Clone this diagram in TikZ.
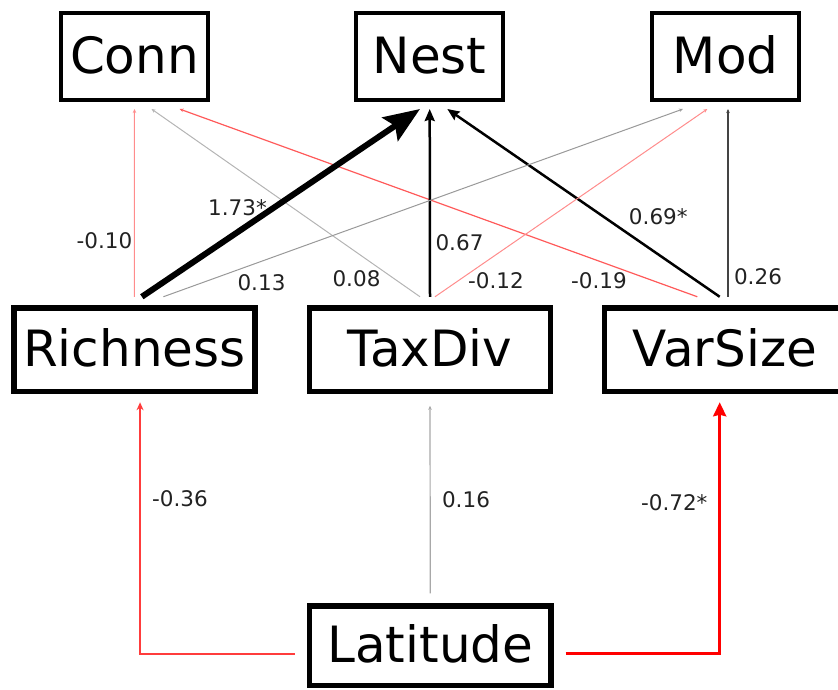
\documentclass[tikz,border=0pt]{standalone}
\usepackage{fontspec}
\setmainfont{DejaVu Sans}
\usetikzlibrary{arrows.meta}

% path colours, graded by coefficient size and sign
\definecolor{negweak}{HTML}{FF8C8C}
\definecolor{negmid}{HTML}{FF5A5A}
\definecolor{negstrong}{HTML}{FF3C3C}
\definecolor{negmax}{HTML}{FF0000}
\definecolor{posfaint}{HTML}{B4B4B4}
\definecolor{poslight}{HTML}{999999}
\definecolor{posgrey}{HTML}{A8A8A8}
\definecolor{posdark}{HTML}{444444}
\definecolor{labelcol}{HTML}{222222}

\tikzset{
  varbox/.style={draw, inner sep=0pt, text height=36pt, text depth=3pt,
    font=\fontsize{50}{60}\selectfont},
  topbox/.style={varbox, line width=4pt, minimum width=147pt, minimum height=87pt,
    outer xsep=0pt, outer ysep=9pt},
  midbox/.style={varbox, line width=5.5pt, minimum width=241pt, minimum height=83.5pt,
    outer xsep=0pt, outer ysep=11pt},
  basebox/.style={varbox, line width=5.5pt, minimum width=241.8pt, minimum height=79.5pt,
    outer xsep=14.5pt, outer ysep=12.7pt},
  coef/.style={inner sep=0pt, text=labelcol, font=\fontsize{21.5}{26}\selectfont},
  tinyhead/.style={-{Stealth[length=4pt,width=3.5pt]}},
  thinpath/.style={line width=1pt, tinyhead},
  midpath/.style={line width=2.5pt, -{Stealth[length=12pt,width=10pt,inset=1.5pt]}},
  boldpath/.style={line width=6pt, -{Stealth[length=36pt,width=28pt,inset=6pt]}},
}

\begin{document}
\begin{tikzpicture}[x=1pt, y=-1pt]
\useasboundingbox (0,0) rectangle (838,689);

% response variables
\node[topbox] (Conn) at (134.5,56.5) {Conn};
\node[topbox] (Nest) at (429.7,56.5) {Nest};
\node[topbox] (Mod)  at (725.7,56.5) {Mod};

% diversity variables
\node[midbox] (Rich) at (134.35,349.5) {Richness};
\node[midbox] (Tax)  at (430,349.5)    {TaxDiv};
\node[midbox] (Var)  at (725,349.5)    {VarSize};

% driver
\node[basebox] (Lat) at (430.3,645.8) {Latitude};

% paths into Conn
\draw[thinpath, negweak] (Rich.north) -- (Conn.south);
\draw[thinpath, posfaint] ([xshift=-10pt]Tax.north) -- ([xshift=17pt]Conn.south);
\draw[thinpath, negmid, line width=1.2pt] ([xshift=-27.7pt]Var.north) -- ([xshift=45pt]Conn.south);

% paths into Nest
\draw[boldpath] ([xshift=7.5pt]Rich.north) -- ([xshift=-9.7pt]Nest.south);
\draw[midpath] (Tax.north) -- (Nest.south);
\draw[midpath] ([xshift=-5.3pt]Var.north) -- ([xshift=17.6pt]Nest.south);

% paths into Mod
\draw[thinpath, poslight] ([xshift=29pt]Rich.north) -- ([xshift=-42.7pt]Mod.south);
\draw[thinpath, negweak] ([xshift=5pt]Tax.north) -- ([xshift=-18.4pt]Mod.south);
\draw[thinpath, posdark, line width=1.1pt] ([xshift=3pt]Var.north) -- ([xshift=2.3pt]Mod.south);

% paths from Latitude
\draw[negstrong, line width=1.6pt, -{Stealth[length=8pt,width=7pt]}]
  ([yshift=-8pt]Lat.west) -| ([xshift=5.7pt]Rich.south);
\draw[thinpath, posgrey, line width=1.2pt] (Lat.north) -- ([yshift=-3.5pt]Tax.south);
\draw[negmax, line width=2.8pt, -{Stealth[length=14pt,width=13pt,inset=1.5pt]}]
  ([yshift=-8pt]Lat.east) -| ([xshift=-5.3pt]Var.south);

% coefficients
\node[coef] (cRichConn) at (104.5,241)   {-0.10};
\node[coef] (cRichNest) at (237.5,207.5) {1.73*};
\node[coef] (cRichMod)  at (261.5,282.5) {0.13};
\node[coef] (cTaxConn)  at (356.5,278.5) {0.08};
\node[coef] (cTaxNest)  at (459.5,243)   {0.67};
\node[coef] (cTaxMod)   at (496,281)     {-0.12};
\node[coef] (cVarConn)  at (599,281)     {-0.19};
\node[coef] (cVarNest)  at (658.3,217)   {0.69*};
\node[coef] (cVarMod)   at (758,276.5)   {0.26};
\node[coef] (cLatRich)  at (180,499)     {-0.36};
\node[coef] (cLatTax)   at (466,500)     {0.16};
\node[coef] (cLatVar)   at (674.3,503)   {-0.72*};
\end{tikzpicture}
\end{document}
